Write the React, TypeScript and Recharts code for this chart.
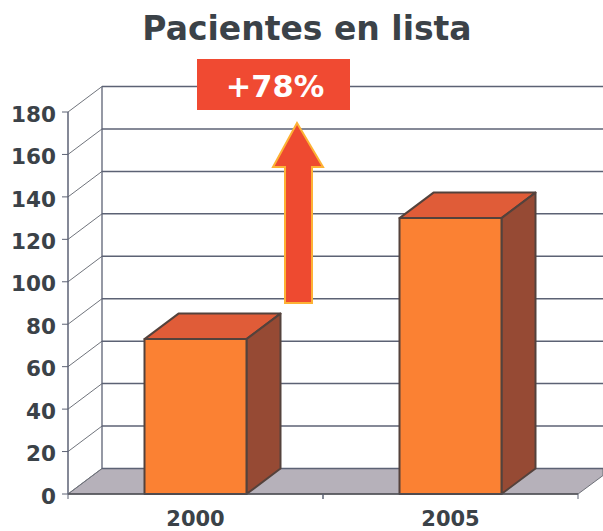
import React from "react";
import { BarChart, Bar, XAxis, YAxis, CartesianGrid } from "recharts";

const categories = ["2000", "2005"];
const patients = [73, 130];
const yTicks = [0, 20, 40, 60, 80, 100, 120, 140, 160, 180];
const titleText = "Pacientes en lista";
const badgeText = "+78%";

const chartData = categories.map((year, i) => ({ year, patients: patients[i] }));

const W = 603;
const H = 531;
const X_AXIS_H = 30;
const M = { top: 112, right: 25, bottom: 7, left: 0 };
const BASE = H - M.bottom - X_AXIS_H;
const AXIS_W = 68;
const PLOT_W = W - M.left - M.right - AXIS_W;
const DX = 34;
const DY = 25.5;
const FONT = "'DejaVu Sans', Verdana, sans-serif";
const INK = "#3b4248";
const LINE = "#5c6274";

function gridLine(props: any) {
  const { x1, x2, y1, index } = props;
  const isFloor = Math.abs(y1 - BASE) < 0.5;
  return (
    <g key={`g-${index}`}>
      {isFloor && (
        <polygon
          points={`${x1},${y1} ${x1 + DX},${y1 - DY} ${W},${y1 - DY} ${W},${y1 - DY + 7} ${x2},${y1}`}
          fill="#b6b1ba"
          stroke="#6d7078"
          strokeWidth={1}
        />
      )}
      <line x1={x1} y1={y1} x2={x1 + DX} y2={y1 - DY} stroke="#70747c" strokeWidth={1} />
      <line x1={x1 + DX} y1={y1 - DY} x2={W} y2={y1 - DY} stroke={LINE} strokeWidth={1.5} />
      {Math.abs(y1 - M.top) < 0.5 && (
        <line x1={x1 + DX} y1={y1 - DY} x2={x1 + DX} y2={BASE - DY} stroke={LINE} strokeWidth={1.3} />
      )}
    </g>
  );
}

function Bar3D(props: any) {
  const { x, y, width, height } = props;
  const edge = { stroke: "#54423c", strokeWidth: 2, strokeLinejoin: "round" as const };
  return (
    <g>
      <polygon
        points={`${x},${y} ${x + DX},${y - DY} ${x + width + DX},${y - DY} ${x + width},${y}`}
        fill="#e05c38"
        {...edge}
      />
      <polygon
        points={`${x + width},${y} ${x + width + DX},${y - DY} ${x + width + DX},${y + height - DY} ${x + width},${y + height}`}
        fill="#964a34"
        {...edge}
      />
      <rect x={x} y={y} width={width} height={height} fill="#fb8133" {...edge} />
    </g>
  );
}

function XTick(props: any) {
  const { x, payload } = props;
  const half = PLOT_W / categories.length / 2;
  return (
    <g>
      <line x1={x - half} y1={BASE} x2={x - half} y2={BASE + 5} stroke={LINE} />
      <line x1={x + half} y1={BASE} x2={x + half} y2={BASE + 5} stroke={LINE} />
      <text x={x} y={BASE + 32} textAnchor="middle" fontFamily={FONT} fontWeight={700} fontSize={21} fill={INK}>
        {payload.value}
      </text>
    </g>
  );
}

export default function App() {
  return (
    <div style={{ position: "absolute", left: 0, top: 0, width: W, height: H, overflow: "hidden", background: "#fff" }}>
      <BarChart width={W} height={H} data={chartData} margin={M} barCategoryGap="30%">
        <CartesianGrid horizontal={gridLine as any} vertical={false} />
        <XAxis
          dataKey="year"
          height={X_AXIS_H}
          axisLine={{ stroke: "#4f4f55", strokeWidth: 1.5 }}
          tickLine={false}
          tick={<XTick />}
          interval={0}
        />
        <YAxis
          width={AXIS_W}
          domain={[0, 180]}
          ticks={yTicks}
          interval={0}
          axisLine={{ stroke: LINE, strokeWidth: 1.5 }}
          tickLine={{ stroke: LINE }}
          tickSize={6}
          tickMargin={6}
          tick={{ fontFamily: FONT, fontWeight: 700, fontSize: 21.5, fill: INK, dy: 2 }}
        />
        <Bar dataKey="patients" isAnimationActive={false} shape={<Bar3D />} />
      </BarChart>
      <svg width={W} height={H} style={{ position: "absolute", left: 0, top: 0, pointerEvents: "none" }}>
        <text x={307} y={40} textAnchor="middle" fontFamily={FONT} fontWeight={700} fontSize={33} fill={INK}>
          {titleText}
        </text>
        <rect x={197} y={59} width={153} height={51} fill="#f04a32" />
        <text x={275} y={97} textAnchor="middle" fontFamily={FONT} fontWeight={700} fontSize={30.5} fill="#fff">
          {badgeText}
        </text>
        <polygon
          points="297,123 323,167 312,167 312,303 285,303 285,167 273,167"
          fill="#ee4a30"
          stroke="#fdb235"
          strokeWidth={2}
          strokeLinejoin="miter"
        />
      </svg>
    </div>
  );
}
